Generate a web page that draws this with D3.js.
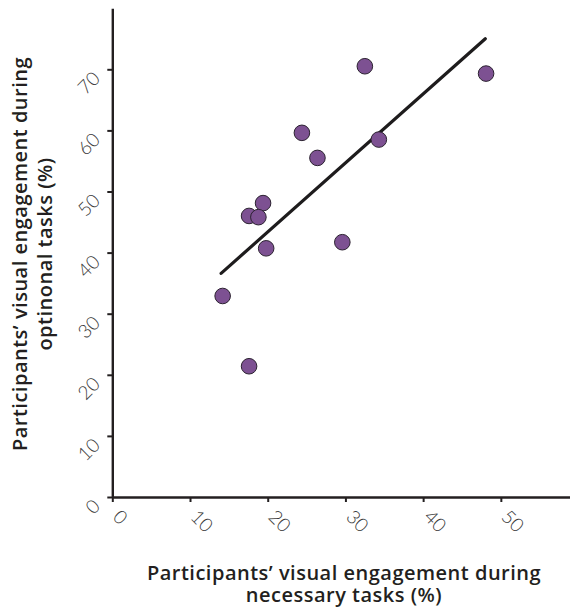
<!DOCTYPE html>
<html><head><meta charset="utf-8">
<script src="https://cdn.jsdelivr.net/npm/d3@7"></script>
<style>body{margin:0;background:#fff}svg{display:block}</style>
</head><body>
<script>
const necessary = [32.5, 48.1, 24.4, 34.3, 26.4, 19.4, 17.6, 18.8, 29.6, 19.8, 14.2, 17.6];
const optional  = [70.5, 69.3, 59.6, 58.5, 55.5, 48.1, 46.0, 45.8, 41.7, 40.7, 32.9, 21.4];
const fitX = [14.0, 48.0];
const fitY = [36.6, 75.0];
const xTicks = [0, 10, 20, 30, 40, 50];
const yTicks = [0, 10, 20, 30, 40, 50, 60, 70];
const xTitle = ["Participants\u2019 visual engagement during", "necessary tasks (%)"];
const yTitle = ["Participants\u2019 visual engagement during", "optinonal tasks (%)"];

const W = 570, H = 608;
const svg = d3.select("body").append("svg").attr("width", W).attr("height", H);
const x = d3.scaleLinear().domain([0, 58.9]).range([112.3, 570]);
const y = d3.scaleLinear().domain([0, 80]).range([497, 8.2]);
const ink = "#231f20";
const tickFont = "Lato, 'DejaVu Sans', sans-serif";

// axes
const gx = svg.append("g").attr("transform", `translate(0,${y(0)})`)
  .call(d3.axisBottom(x).tickValues(xTicks).tickSize(5).tickSizeOuter(0));
gx.select(".domain").attr("stroke", ink).attr("stroke-width", 2.4);
gx.selectAll(".tick line").attr("stroke", ink).attr("stroke-width", 2);
gx.selectAll(".tick text")
  .attr("font-family", tickFont).attr("font-weight", 300).attr("font-size", 19)
  .attr("fill", "#3a3a3a").attr("text-anchor", "start")
  .attr("y", 0).attr("dy", 0)
  .attr("transform", "translate(-1,21) rotate(45)");

const gy = svg.append("g").attr("transform", `translate(${x(0)},0)`)
  .call(d3.axisLeft(y).tickValues(yTicks).tickSize(5).tickSizeOuter(0));
gy.select(".domain").attr("stroke", ink).attr("stroke-width", 2.4);
gy.selectAll(".tick line").attr("stroke", ink).attr("stroke-width", 2);
gy.selectAll(".tick text")
  .attr("font-family", tickFont).attr("font-weight", 300).attr("font-size", 19)
  .attr("fill", "#3a3a3a").attr("text-anchor", "end")
  .attr("x", 0).attr("dy", 0)
  .attr("transform", "translate(-11,10) rotate(-45)");

// fit line
svg.append("line")
  .attr("x1", x(fitX[0])).attr("y1", y(fitY[0]))
  .attr("x2", x(fitX[1])).attr("y2", y(fitY[1]))
  .attr("stroke", "#1e1c1d").attr("stroke-width", 3.2).attr("stroke-linecap", "round");

// points
svg.append("g").selectAll("circle").data(necessary).join("circle")
  .attr("cx", d => x(d)).attr("cy", (d, i) => y(optional[i])).attr("r", 7.8)
  .attr("fill", "#7d5192").attr("stroke", "#2b2230").attr("stroke-width", 1);

// titles
const titleFont = "'Open Sans', 'DejaVu Sans', sans-serif";
svg.append("text").attr("x", 344).attr("y", 579.5)
  .attr("text-anchor", "middle").attr("font-family", titleFont).attr("font-weight", 600)
  .attr("font-size", 20).attr("letter-spacing", 0.5).attr("fill", "#231f20")
  .selectAll("tspan").data(xTitle).join("tspan")
  .attr("x", 344).attr("dy", (d, i) => i ? 22.5 : 0).text(d => d);

svg.append("text").attr("transform", "translate(26.7,254) rotate(-90)")
  .attr("text-anchor", "middle").attr("font-family", titleFont).attr("font-weight", 600)
  .attr("font-size", 20).attr("letter-spacing", 0.5).attr("fill", "#231f20")
  .selectAll("tspan").data(yTitle).join("tspan")
  .attr("x", 0).attr("dy", (d, i) => i ? 25 : 0).text(d => d);
</script>
</body></html>
